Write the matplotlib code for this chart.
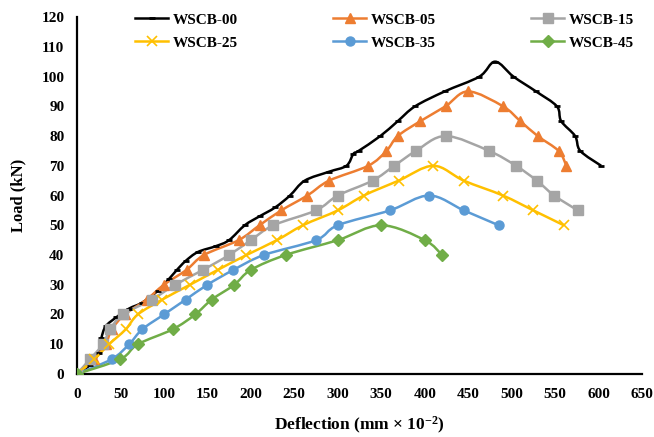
import matplotlib
matplotlib.use('Agg')
import matplotlib.pyplot as plt
from matplotlib.path import Path
from matplotlib.patches import PathPatch
from matplotlib.lines import Line2D
import numpy as np

plt.rcParams['font.family'] = 'Liberation Serif'
plt.rcParams['font.weight'] = 'bold'
plt.rcParams['mathtext.fontset'] = 'custom'
plt.rcParams['mathtext.rm'] = 'Liberation Serif:bold'
plt.rcParams['mathtext.bf'] = 'Liberation Serif:bold'
plt.rcParams['mathtext.default'] = 'bf'

# load-deflection readings (deflection in mm x 10^-2, load in kN)
x00 = [0, 15, 25, 28, 33, 45, 60, 75, 93, 106, 115, 125, 139, 160, 175, 193, 210, 228, 245, 262,
       290, 310, 318, 324, 349, 369, 389, 423, 463, 481, 502, 528, 552, 557, 573, 579, 603]
y00 = [0, 3, 7, 12, 16, 19, 22, 24, 28, 32, 35, 38, 41, 43, 45, 50, 53, 56, 60, 65,
       68, 70, 74, 75, 80, 85, 90, 95, 100, 105, 100, 95, 90, 85, 80, 75, 70]

x05 = [0, 20, 33, 40, 55, 80, 100, 126, 146, 186, 210, 235, 265, 290, 335, 356, 369, 395, 424,
       450, 490, 510, 530, 554, 563]
y05 = [0, 5, 10, 15, 20, 25, 30, 35, 40, 45, 50, 55, 60, 65, 70, 75, 80, 85, 90,
       95, 90, 85, 80, 75, 70]

x15 = [0, 15, 30, 38, 53, 86, 113, 145, 175, 200, 226, 275, 300, 340, 365, 390, 424,
       474, 505, 529, 549, 576]
y15 = [0, 5, 10, 15, 20, 25, 30, 35, 40, 45, 50, 55, 60, 65, 70, 75, 80,
       75, 70, 65, 60, 55]

x25 = [0, 20, 37, 56, 70, 98, 130, 162, 195, 230, 260, 300, 330, 370, 410, 445, 490, 525, 560]
y25 = [0, 5, 10, 15, 20, 25, 30, 35, 40, 45, 50, 55, 60, 65, 70, 65, 60, 55, 50]

x35 = [0, 40, 60, 75, 100, 125, 150, 180, 215, 275, 300, 360, 405, 445, 485]
y35 = [0, 5, 10, 15, 20, 25, 30, 35, 40, 45, 50, 55, 60, 55, 50]

x45 = [0, 50, 70, 110, 136, 155, 181, 200, 240, 300, 350, 400, 420]
y45 = [0, 5, 10, 15, 20, 25, 30, 35, 40, 45, 50, 45, 40]

series = [
    ('WSCB-00', x00, y00, 'black', '_', 5),
    ('WSCB-05', x05, y05, '#ED7D31', '^', 7),
    ('WSCB-15', x15, y15, '#A5A5A5', 's', 6.5),
    ('WSCB-25', x25, y25, '#FFC000', 'x', 6.5),
    ('WSCB-35', x35, y35, '#5B9BD5', 'o', 6.5),
    ('WSCB-45', x45, y45, '#70AD47', 'D', 6),
]


def smooth_path(x, y):
    # excel-like smoothed line: catmull-rom segments as cubic beziers
    p = np.column_stack([x, y]).astype(float)
    verts = [p[0]]
    codes = [Path.MOVETO]
    n = len(p)
    for i in range(n - 1):
        p0 = p[i - 1] if i > 0 else p[i]
        p1, p2 = p[i], p[i + 1]
        p3 = p[i + 2] if i + 2 < n else p[i + 1]
        c1 = p1 + (p2 - p0) / 6.0
        c2 = p2 - (p3 - p1) / 6.0
        verts += [c1, c2, p2]
        codes += [Path.CURVE4] * 3
    return Path(verts, codes)


fig = plt.figure(figsize=(6.54, 4.37), dpi=100)
ax = fig.add_axes([0.1177, 0.1442, 0.8640, 0.8168])

handles = []
for name, xs, ys, col, mk, ms in series:
    ax.add_patch(PathPatch(smooth_path(xs, ys), fc='none', ec=col, lw=1.8, zorder=3))
    if mk == '_':
        ax.plot(xs, ys, ls='none', marker=mk, ms=ms, mew=2, color=col, zorder=4)
    elif mk == 'x':
        ax.plot(xs, ys, ls='none', marker=mk, ms=ms, mew=1.2, color=col, zorder=4)
    else:
        ax.plot(xs, ys, ls='none', marker=mk, ms=ms, mec=col, mfc=col, zorder=4)
    handles.append(Line2D([], [], color=col, lw=1.8, marker=mk, ms=ms,
                          mew=2 if mk == '_' else (1.2 if mk == 'x' else 1)))

ax.set_xlim(0, 650)
ax.set_ylim(0, 120)
ax.set_xticks(np.arange(0, 651, 50))
ax.set_yticks(np.arange(0, 121, 10))
ax.tick_params(length=0, labelsize=11)
ax.tick_params(axis='x', pad=10)
ax.tick_params(axis='y', pad=9)
for s in ['top', 'right']:
    ax.spines[s].set_visible(False)
for s in ['left', 'bottom']:
    ax.spines[s].set_linewidth(1.6)

ax.set_xlabel('Deflection (mm \u00d7 10$^{-2}$)', fontsize=12.5, fontweight='bold', labelpad=10)
ax.set_ylabel('Load (kN)', fontsize=12, fontweight='bold', labelpad=11)

# legend is filled row by row in the reference
order = [0, 3, 1, 4, 2, 5]
ax.legend([handles[i] for i in order], [series[i][0] for i in order], ncol=3, frameon=False,
          loc='upper left', bbox_to_anchor=(0.078, 1.05), handlelength=2.2, handletextpad=0.3,
          columnspacing=6.2, labelspacing=0.6, prop={'weight': 'bold', 'size': 11})

fig.savefig('out.png', dpi=100)
